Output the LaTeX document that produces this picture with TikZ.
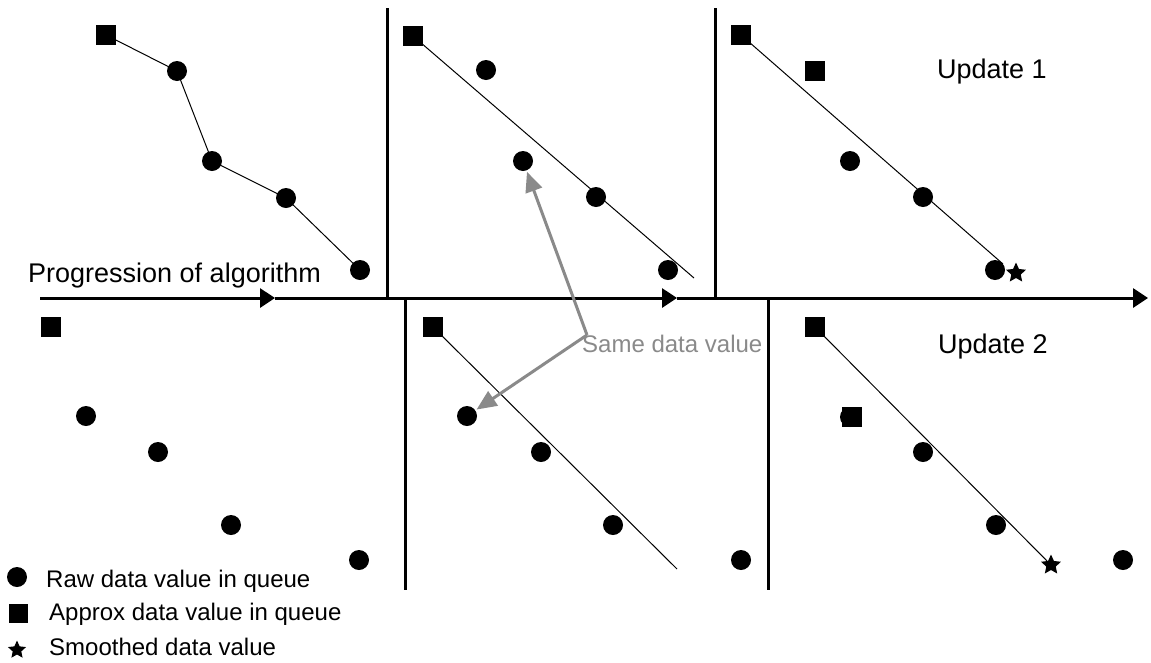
\documentclass[tikz,border=0pt]{standalone}
\usepackage{fontspec}
\setmainfont{Liberation Sans}
\usetikzlibrary{shapes.geometric,arrows.meta}
\definecolor{notegray}{RGB}{138,138,138}
\tikzset{
 dot/.style={circle,fill=black,minimum size=20pt,inner sep=0pt,outer sep=1.5pt},
 sq/.style={rectangle,fill=black,minimum size=20pt,inner sep=0pt,outer sep=0pt},
 starm/.style={star,star points=5,star point ratio=2.1,fill=black,minimum size=21pt,inner sep=0pt},
 axisline/.style={line width=3pt,-{Triangle[length=15pt,width=19pt]}},
 divider/.style={line width=3pt},
 fitline/.style={line width=1pt},
 notearrow/.style={draw=notegray,line width=3pt,-{Triangle[length=20pt,width=17pt]}},
 biglbl/.style={font=\fontsize{27}{32}\selectfont,anchor=base west,inner sep=0pt},
 smalllbl/.style={font=\fontsize{24}{28}\selectfont,anchor=base west,inner sep=0pt},
}
\begin{document}
\begin{tikzpicture}[x=1pt,y=-1pt]
\useasboundingbox (0,0) rectangle (1151,662);
\fill[white] (0,0) rectangle (1151,662);

% axis and dividers
\coordinate (a0) at (40,298);
\coordinate (a1) at (275,298);
\coordinate (a2) at (677,298);
\coordinate (a3) at (1148,298);
\draw[axisline] (a0) -- (a1);
\draw[axisline] (a1) -- (a2);
\draw[axisline] (a2) -- (a3);
\coordinate (v1t) at (387,8);   \coordinate (v1b) at (387,298);
\coordinate (v2t) at (715,8);   \coordinate (v2b) at (715,298);
\coordinate (v3t) at (405,298); \coordinate (v3b) at (405,590);
\coordinate (v4t) at (768,298); \coordinate (v4b) at (768,590);
\draw[divider] (v1t) -- (v1b);
\draw[divider] (v2t) -- (v2b);
\draw[divider] (v3t) -- (v3b);
\draw[divider] (v4t) -- (v4b);

% top-left panel
\node[sq]  (tls) at (106,35) {};
\node[dot] (tl1) at (177,71) {};
\node[dot] (tl2) at (212,161) {};
\node[dot] (tl3) at (286,198) {};
\node[dot] (tl4) at (360,270) {};
\draw[fitline] (tls.center) -- (tl1.center) -- (tl2.center) -- (tl3.center) -- (tl4.center);
\node[biglbl] (prog) at (28,282) {Progression of algorithm};

% top-middle panel
\node[sq]  (tms) at (413,36) {};
\node[dot] (tm1) at (486,70) {};
\node[dot] (tm2) at (523,161) {};
\node[dot] (tm3) at (596,197) {};
\node[dot] (tm4) at (668,270) {};
\coordinate (tme) at (694,278);
\draw[fitline] (tms.center) -- (tme);

% top-right panel
\node[sq]  (trs1) at (741,35) {};
\node[sq]  (trs2) at (815,71) {};
\node[dot] (tr1) at (850,161) {};
\node[dot] (tr2) at (923,197) {};
\node[dot] (tr3) at (995,270) {};
\node[starm] (trst) at (1016,273) {};
\coordinate (tre) at (1003,264);
\draw[fitline] (trs1.center) -- (tre);
\node[biglbl] (up1) at (937,78) {Update 1};

% bottom-left panel
\node[sq]  (bls) at (51,327) {};
\node[dot] (bl1) at (86,416) {};
\node[dot] (bl2) at (158,452) {};
\node[dot] (bl3) at (231,525) {};
\node[dot] (bl4) at (359,560) {};

% bottom-middle panel
\node[sq]  (bms) at (433,327) {};
\node[dot] (bm1) at (467,416) {};
\node[dot] (bm2) at (541,452) {};
\node[dot] (bm3) at (613,525) {};
\node[dot] (bm4) at (741,560) {};
\coordinate (bme) at (677,569);
\draw[fitline] (bms.center) -- (bme);

% bottom-right panel
\node[sq]  (brs1) at (815,327) {};
\node[dot] (brh) at (850,417) {};
\node[sq]  (brs2) at (852,417) {};
\node[dot] (br1) at (923,452) {};
\node[dot] (br2) at (996,525) {};
\node[dot] (br3) at (1123,560) {};
\node[starm] (brst) at (1051,565) {};
\draw[fitline] (brs1.center) -- (brst.center);
\node[biglbl] (up2) at (938,353) {Update 2};

% same data value note
\coordinate (j) at (587,335);
\draw[notearrow] (j) -- (tm2);
\draw[notearrow] (j) -- (bm1);
\node[smalllbl,text=notegray] (same) at (582,352) {Same data value};

% legend
\node[dot] (lg1) at (17,577) {};
\node[sq,minimum size=19pt] (lg2) at (18,613) {};
\node[starm,minimum size=19pt] (lg3) at (17,650) {};
\node[smalllbl] (lt1) at (46,587) {Raw data value in queue};
\node[smalllbl] (lt2) at (49,620) {Approx data value in queue};
\node[smalllbl] (lt3) at (49,655) {Smoothed data value};
\end{tikzpicture}
\end{document}
